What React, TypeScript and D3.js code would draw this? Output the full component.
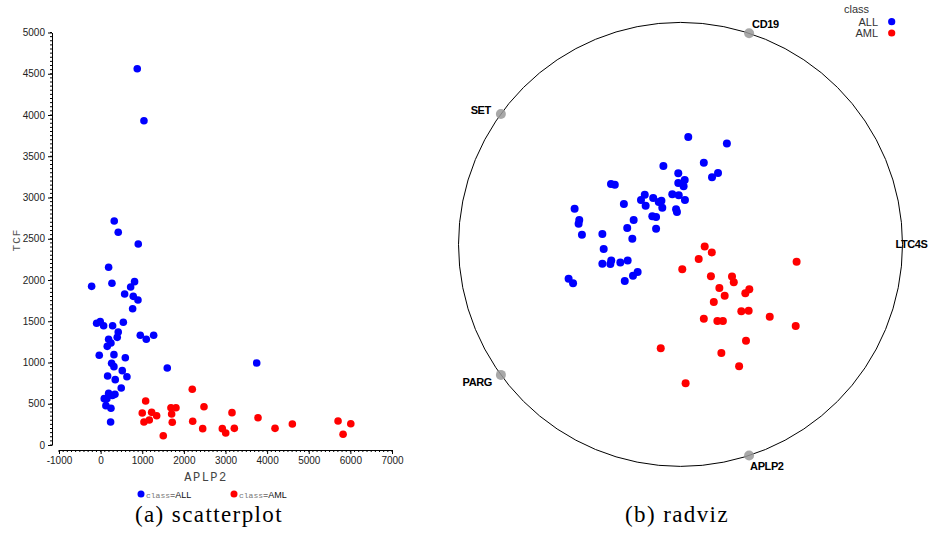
import React, { useRef, useEffect } from "react";
import { select, scaleLinear, axisLeft, axisBottom, range } from "d3";

// scatterplot: APLP2 (x) vs TCF (y)
const allAPLP2 = [880, 1041, 327, 423, 904, 192, -216, 272, 815, 721, 577, 784, 897, 769, -96, -9, 72, 288, 545, 423, 399, 953, 1097, 1274, 192, 248, 159, -33, 320, 593, 264, 320, 520, 168, 351, 632, 1601, 3750, 495, 192, 344, 280, 87, 127, 248, 240, 150];
const allTCF = [4561, 3931, 2715, 2578, 2436, 2154, 1923, 1960, 1980, 1915, 1830, 1802, 1758, 1652, 1475, 1495, 1446, 1446, 1487, 1370, 1305, 1330, 1281, 1330, 1281, 1236, 1196, 1087, 1095, 1058, 990, 950, 901, 836, 792, 828, 933, 994, 691, 626, 614, 600, 562, 477, 445, 279, 560];
const amlAPLP2 = [2202, 1082, 1690, 1810, 2483, 1000, 1226, 1346, 1706, 3156, 3781, 1041, 1169, 1721, 2212, 2452, 2924, 3005, 3212, 4190, 4606, 5704, 6010, 5825, 1505];
const amlTCF = [675, 533, 452, 452, 464, 388, 396, 355, 376, 392, 331, 279, 303, 275, 287, 198, 198, 145, 202, 202, 255, 291, 258, 130, 113];

// radviz: projected positions inside the unit circle
const anchors = ["LTC4S", "CD19", "SET", "PARG", "APLP2"];
const allU = [0.035, 0.209, 0.105, -0.077, -0.010, 0.169, 0.142, -0.313, -0.296, -0.010, 0.019, 0.014, -0.037, -0.008, 0.020, -0.161, -0.178, -0.123, -0.086, -0.098, -0.157, -0.082, -0.255, -0.477, -0.020, -0.016, -0.456, -0.459, -0.211, -0.127, -0.110, -0.240, -0.110, -0.444, -0.352, -0.217, -0.346, -0.352, -0.312, -0.316, -0.271, -0.238, -0.193, -0.214, -0.251, -0.504, -0.484];
const allV = [0.484, 0.454, 0.368, 0.353, 0.320, 0.322, 0.302, 0.272, 0.269, 0.277, 0.290, 0.262, 0.226, 0.221, 0.200, 0.224, 0.200, 0.209, 0.197, 0.191, 0.174, 0.165, 0.182, 0.161, 0.158, 0.146, 0.110, 0.093, 0.110, 0.127, 0.123, 0.074, 0.071, 0.044, 0.047, 0.026, -0.021, -0.087, -0.073, -0.088, -0.082, -0.073, -0.124, -0.141, -0.165, -0.155, -0.175];
const amlU = [0.109, 0.141, 0.082, 0.008, 0.523, 0.137, 0.232, 0.240, 0.175, 0.310, 0.292, 0.199, 0.150, 0.274, 0.307, 0.402, 0.105, 0.166, 0.191, 0.519, 0.295, -0.089, 0.184, 0.264, 0.023];
const amlV = [-0.010, -0.036, -0.066, -0.112, -0.078, -0.144, -0.145, -0.171, -0.196, -0.202, -0.220, -0.231, -0.259, -0.301, -0.299, -0.326, -0.335, -0.345, -0.345, -0.368, -0.434, -0.468, -0.489, -0.549, -0.626];

const classes = ["ALL", "AML"];
const colors = ["#0000ff", "#ff0000"];

const sans = "'Liberation Sans', Arial, sans-serif";
const mono = "'Liberation Mono', monospace";
const serif = "'Liberation Serif', serif";

const App = () => {
  const svgRef = useRef<SVGSVGElement>(null);

  useEffect(() => {
    const svg = select(svgRef.current);
    svg.selectAll("*").remove();

    // ---------- (a) scatterplot ----------
    const x = scaleLinear().domain([-1000, 7000]).range([59, 392]);
    const y = scaleLinear().domain([0, 5000]).range([445, 32.5]);

    const yAxis = svg.append("g").attr("transform", "translate(52,0)");
    yAxis.call(
      axisLeft(y).tickValues(range(0, 5001, 500)).tickFormat((d) => String(d))
        .tickSize(4).tickSizeOuter(0).tickPadding(3)
    );
    yAxis.append("g").selectAll("line")
      .data(range(0, 5001, 50))
      .join("line")
      .attr("x1", -2).attr("x2", 0)
      .attr("y1", (d) => y(d)).attr("y2", (d) => y(d))
      .attr("stroke", "#000");

    const xAxis = svg.append("g").attr("transform", "translate(0,450)");
    xAxis.call(
      axisBottom(x).tickValues(range(-1000, 7001, 1000)).tickFormat((d) => String(d))
        .tickSize(4).tickSizeOuter(0).tickPadding(3)
    );
    xAxis.append("g").selectAll("line")
      .data(range(-1000, 7001, 100))
      .join("line")
      .attr("x1", (d) => x(d)).attr("x2", (d) => x(d))
      .attr("y1", 0).attr("y2", 2)
      .attr("stroke", "#000");

    svg.selectAll(".tick text")
      .attr("font-family", sans)
      .attr("font-size", 10)
      .attr("fill", "#222");

    svg.append("text")
      .attr("transform", "translate(20,240) rotate(-90)")
      .attr("text-anchor", "middle")
      .attr("font-family", mono)
      .attr("font-size", 11)
      .attr("fill", "#555")
      .attr("letter-spacing", 1)
      .text("TCF");

    svg.append("text")
      .attr("x", 206).attr("y", 481)
      .attr("text-anchor", "middle")
      .attr("font-family", mono)
      .attr("font-size", 12)
      .attr("fill", "#444")
      .attr("letter-spacing", 1.5)
      .text("APLP2");

    const scatterSets = [
      { xs: allAPLP2, ys: allTCF },
      { xs: amlAPLP2, ys: amlTCF },
    ];
    scatterSets.forEach((s, k) => {
      svg.append("g").selectAll("circle")
        .data(s.xs)
        .join("circle")
        .attr("cx", (d) => x(d))
        .attr("cy", (d, i) => y(s.ys[i]))
        .attr("r", 3.8)
        .attr("fill", colors[k]);
    });

    // bottom legend
    classes.forEach((c, k) => {
      const lx = 141 + k * 93;
      svg.append("circle").attr("cx", lx).attr("cy", 494).attr("r", 3.5).attr("fill", colors[k]);
      const t = svg.append("text").attr("x", lx + 5).attr("y", 497.5).attr("font-size", 9);
      t.append("tspan").attr("font-family", mono).attr("fill", "#777").attr("font-size", 8).text("class");
      t.append("tspan").attr("font-family", sans).attr("fill", "#111").text("=" + c);
    });

    // ---------- (b) radviz ----------
    const cx = 680.5, cy = 244.4, r = 222;
    const u = scaleLinear().domain([-1, 1]).range([cx - r, cx + r]);
    const v = scaleLinear().domain([-1, 1]).range([cy + r, cy - r]);

    svg.append("circle")
      .attr("cx", cx).attr("cy", cy).attr("r", r)
      .attr("fill", "none").attr("stroke", "#000").attr("stroke-width", 1);

    const labelOffsets = [
      { dx: -7, dy: 4, anchor: "start" },
      { dx: 3, dy: -5, anchor: "start" },
      { dx: -10, dy: 0, anchor: "end" },
      { dx: -9, dy: 11, anchor: "end" },
      { dx: 1, dy: 14, anchor: "start" },
    ];
    anchors.forEach((name, i) => {
      const a = (i * 2 * Math.PI) / anchors.length;
      const ax = u(Math.cos(a));
      const ay = v(Math.sin(a));
      if (i > 0) {
        svg.append("circle").attr("cx", ax).attr("cy", ay).attr("r", 5)
          .attr("fill", "#999").attr("opacity", 0.85);
      }
      const o = labelOffsets[i];
      svg.append("text")
        .attr("x", ax + o.dx).attr("y", ay + o.dy)
        .attr("text-anchor", o.anchor)
        .attr("font-family", sans)
        .attr("font-weight", "bold")
        .attr("font-size", 11)
        .attr("letter-spacing", -0.4)
        .attr("fill", "#000")
        .text(name);
    });

    const radSets = [
      { us: allU, vs: allV },
      { us: amlU, vs: amlV },
    ];
    radSets.forEach((s, k) => {
      svg.append("g").selectAll("circle")
        .data(s.us)
        .join("circle")
        .attr("cx", (d) => u(d))
        .attr("cy", (d, i) => v(s.vs[i]))
        .attr("r", 4)
        .attr("fill", colors[k]);
    });

    // top-right legend
    svg.append("text").attr("x", 844).attr("y", 13)
      .attr("font-family", sans).attr("font-size", 11).attr("fill", "#333").text("class");
    classes.forEach((c, k) => {
      svg.append("text").attr("x", 878).attr("y", 25.5 + k * 11.5)
        .attr("text-anchor", "end")
        .attr("font-family", sans).attr("font-size", 11).attr("fill", "#333").text(c);
      svg.append("circle").attr("cx", 891.7).attr("cy", 21.7 + k * 11.3).attr("r", 3.6).attr("fill", colors[k]);
    });

    // captions
    svg.append("text").attr("x", 209).attr("y", 522)
      .attr("text-anchor", "middle").attr("font-family", serif).attr("font-size", 23)
      .attr("letter-spacing", 1.4)
      .attr("fill", "#000").text("(a) scatterplot");
    svg.append("text").attr("x", 677).attr("y", 522)
      .attr("text-anchor", "middle").attr("font-family", serif).attr("font-size", 23)
      .attr("letter-spacing", 1.4)
      .attr("fill", "#000").text("(b) radviz");
  }, []);

  return (
    <svg
      ref={svgRef}
      width={935}
      height={533}
      style={{ position: "absolute", left: 0, top: 0, background: "#fff" }}
    />
  );
};

export default App;
